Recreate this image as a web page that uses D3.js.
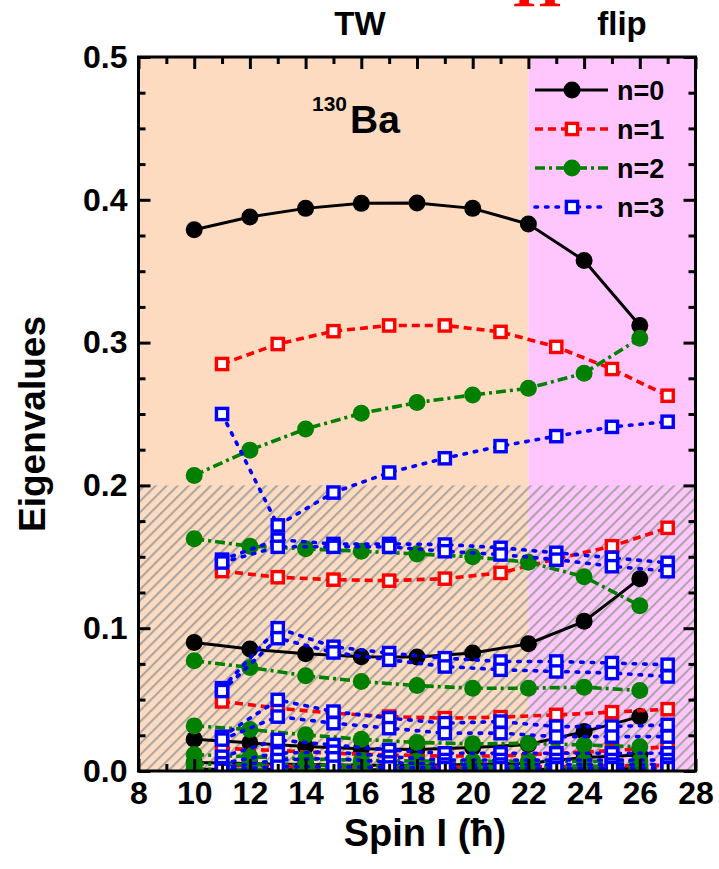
<!DOCTYPE html>
<html>
<head>
<meta charset="utf-8">
<script src="https://cdn.jsdelivr.net/npm/d3@7"></script>
<style>
  body { margin: 0; background: #fff; }
  text { font-family: "Liberation Sans", Arial, sans-serif; font-weight: bold; fill: #000; }
</style>
</head>
<body>
<svg id="chart" width="719" height="869"></svg>
<script>
// Spin values (in units of hbar)
const evenSpins = [10, 12, 14, 16, 18, 20, 22, 24, 26];
const oddSpins  = [11, 13, 15, 17, 19, 21, 23, 25, 27];

// n = 0 eigenvalues (even spins), largest first
const n0Levels = [
  [0.379, 0.388, 0.394, 0.3975, 0.3978, 0.394, 0.383, 0.3575, 0.312],
  [0.0900, 0.0854, 0.0821, 0.0800, 0.0798, 0.0826, 0.0891, 0.1048, 0.1347],
  [0.0222, 0.0197, 0.0171, 0.0155, 0.0150, 0.0165, 0.0185, 0.0276, 0.0381],
  [0.0060, 0.0052, 0.0045, 0.0040, 0.0040, 0.0045, 0.0055, 0.0095, 0.0112],
  [0.0012, 0.0010, 0.0009, 0.0008, 0.0008, 0.0009, 0.0010, 0.0015, 0.0020]
];

// n = 1 eigenvalues (odd spins)
const n1Levels = [
  [0.285, 0.299, 0.308, 0.312, 0.312, 0.3075, 0.297, 0.2815, 0.2628],
  [0.140, 0.1357, 0.134, 0.1333, 0.1347, 0.1387, 0.1486, 0.1574, 0.1703],
  [0.0487, 0.0440, 0.0405, 0.0381, 0.0370, 0.0377, 0.0393, 0.0412, 0.0433],
  [0.0159, 0.0143, 0.0124, 0.0112, 0.0105, 0.0105, 0.0124, 0.0143, 0.0170],
  [0.0040, 0.0035, 0.0030, 0.0028, 0.0028, 0.0028, 0.0030, 0.0035, 0.0040]
];

// n = 2 eigenvalues (even spins)
const n2Levels = [
  [0.207, 0.2247, 0.2395, 0.2505, 0.258, 0.2633, 0.268, 0.2786, 0.303],
  [0.1626, 0.1574, 0.1556, 0.1539, 0.1520, 0.1500, 0.1462, 0.1360, 0.1158],
  [0.0772, 0.0725, 0.0667, 0.0627, 0.0598, 0.0580, 0.0580, 0.0587, 0.0564],
  [0.0316, 0.0290, 0.0253, 0.0222, 0.0200, 0.0190, 0.0194, 0.0182, 0.0170],
  [0.0115, 0.0100, 0.0085, 0.0075, 0.0070, 0.0068, 0.0068, 0.0068, 0.0068],
  [0.0050, 0.0044, 0.0040, 0.0036, 0.0034, 0.0033, 0.0033, 0.0033, 0.0033],
  [0.0012, 0.0010, 0.0009, 0.0008, 0.0008, 0.0008, 0.0008, 0.0008, 0.0008]
];

// n = 3 eigenvalues (odd spins)
const n3Levels = [
  [0.250, 0.172, 0.195, 0.209, 0.219, 0.2275, 0.2345, 0.241, 0.2446],
  [0.148, 0.162, 0.159, 0.159, 0.1586, 0.1563, 0.1528, 0.1493, 0.1458],
  [0.146, 0.157, 0.157, 0.157, 0.1539, 0.1516, 0.1480, 0.1434, 0.1399],
  [0.058, 0.100, 0.087, 0.0826, 0.0790, 0.0767, 0.0767, 0.0756, 0.0744],
  [0.056, 0.093, 0.083, 0.0779, 0.0732, 0.0709, 0.0697, 0.0686, 0.0662],
  [0.024, 0.0498, 0.0416, 0.0370, 0.0335, 0.0346, 0.0311, 0.0311, 0.0323],
  [0.022, 0.0381, 0.0335, 0.0300, 0.0265, 0.0265, 0.0241, 0.0241, 0.0241],
  [0.0100, 0.0218, 0.0182, 0.0147, 0.0124, 0.0124, 0.0124, 0.0124, 0.0124],
  [0.0054, 0.0124, 0.0135, 0.0100, 0.0077, 0.0077, 0.0077, 0.0077, 0.0077],
  [0.0020, 0.0077, 0.0089, 0.0060, 0.0045, 0.0045, 0.0045, 0.0045, 0.0045],
  [0.0008, 0.0030, 0.0030, 0.0025, 0.0020, 0.0020, 0.0020, 0.0020, 0.0020]
];

const legendLabels = ["n=0", "n=1", "n=2", "n=3"];
const xTickValues = [8, 10, 12, 14, 16, 18, 20, 22, 24, 26, 28];
const xMinorTicks = [9, 11, 13, 15, 17, 19, 21, 23, 25, 27];
const yTickValues = [0.0, 0.1, 0.2, 0.3, 0.4, 0.5];
const yMinorTicks = [0.025, 0.05, 0.075, 0.125, 0.15, 0.175, 0.225, 0.25, 0.275,
                     0.325, 0.35, 0.375, 0.425, 0.45, 0.475];
const twRange = [8, 22];
const flipRange = [22, 28];
const hatchTop = 0.2;

const svg = d3.select("#chart");
const x = d3.scaleLinear().domain([8, 28]).range([138.5, 695.5]);
const y = d3.scaleLinear().domain([0, 0.5]).range([771, 57]);
const plotLeft = x.range()[0], plotRight = x.range()[1];
const plotTop = y.range()[1], plotBottom = y.range()[0];

const defs = svg.append("defs");
defs.append("clipPath").attr("id", "plotClip")
  .append("rect").attr("x", plotLeft).attr("y", plotTop)
  .attr("width", plotRight - plotLeft).attr("height", plotBottom - plotTop);
const hatch = defs.append("pattern").attr("id", "hatch")
  .attr("patternUnits", "userSpaceOnUse")
  .attr("width", 7.8).attr("height", 7.8)
  .attr("patternTransform", "rotate(45)");
hatch.append("line").attr("x1", 1).attr("y1", 0).attr("x2", 1).attr("y2", 7.8)
  .attr("stroke", "#a9a6a3").attr("stroke-width", 2.2);

// shaded regions
svg.append("rect").attr("x", x(twRange[0])).attr("y", plotTop)
  .attr("width", x(twRange[1]) - x(twRange[0])).attr("height", plotBottom - plotTop)
  .attr("fill", "#fddbc1");
svg.append("rect").attr("x", x(flipRange[0])).attr("y", plotTop)
  .attr("width", x(flipRange[1]) - x(flipRange[0])).attr("height", plotBottom - plotTop)
  .attr("fill", "#ffc6fe");
svg.append("rect").attr("x", plotLeft).attr("y", y(hatchTop))
  .attr("width", plotRight - plotLeft).attr("height", plotBottom - y(hatchTop))
  .attr("fill", "url(#hatch)");

// series styles
const styles = [
  { levels: n0Levels, spins: evenSpins, color: "#000000", dash: null,        marker: "circle", fill: "#000000" },
  { levels: n1Levels, spins: oddSpins,  color: "#ff0000", dash: "8,5",       marker: "square", fill: "#ffffff" },
  { levels: n2Levels, spins: evenSpins, color: "#008000", dash: "10,4,3,4",  marker: "circle", fill: "#008000" },
  { levels: n3Levels, spins: oddSpins,  color: "#0000ff", dash: "2.5,8",     marker: "square", fill: "#ffffff" }
];

const plot = svg.append("g").attr("clip-path", "url(#plotClip)");
const line = d3.line().x(d => x(d[0])).y(d => y(d[1]));

function drawMarker(g, cx, cy, s) {
  if (s.marker === "circle") {
    g.append("circle").attr("cx", cx).attr("cy", cy).attr("r", 8.5).attr("fill", s.fill);
  } else {
    g.append("rect").attr("x", cx - 5.6).attr("y", cy - 5.6)
      .attr("width", 11.2).attr("height", 11.2)
      .attr("fill", s.fill).attr("stroke", s.color).attr("stroke-width", 3.4);
  }
}

styles.forEach(s => {
  const g = plot.append("g");
  s.levels.forEach(vals => {
    const pts = s.spins.map((sp, i) => [sp, vals[i]]);
    g.append("path").attr("d", line(pts))
      .attr("fill", "none").attr("stroke", s.color)
      .attr("stroke-width", s.dash ? 3.6 : 3)
      .attr("stroke-dasharray", s.dash)
      .attr("stroke-linecap", s.dash === "2.5,8" ? "round" : "butt");
    pts.forEach(p => drawMarker(g, x(p[0]), y(p[1]), s));
  });
});

// axes with inward ticks on all four sides
function styleAxis(g) {
  g.select(".domain").remove();
  g.selectAll(".tick line").attr("stroke", "#000").attr("stroke-width", 3);
  g.selectAll(".tick text").style("font-size", "32px").style("font-weight", "bold")
    .style("font-family", "'Liberation Sans', Arial, sans-serif").attr("fill", "#000");
}
const noLabel = () => "";

svg.append("g").attr("transform", `translate(0,${plotBottom})`)
  .call(d3.axisBottom(x).tickValues(xTickValues).tickSize(-12).tickPadding(10)).call(styleAxis);
svg.append("g").attr("transform", `translate(0,${plotBottom})`)
  .call(d3.axisBottom(x).tickValues(xMinorTicks).tickSize(-7).tickFormat(noLabel)).call(styleAxis);
svg.append("g").attr("transform", `translate(0,${plotTop})`)
  .call(d3.axisTop(x).tickValues(xTickValues).tickSize(-12).tickFormat(noLabel)).call(styleAxis);
svg.append("g").attr("transform", `translate(0,${plotTop})`)
  .call(d3.axisTop(x).tickValues(xMinorTicks).tickSize(-7).tickFormat(noLabel)).call(styleAxis);

svg.append("g").attr("transform", `translate(${plotLeft},0)`)
  .call(d3.axisLeft(y).tickValues(yTickValues).tickSize(-12).tickPadding(11).tickFormat(d3.format(".1f"))).call(styleAxis);
svg.append("g").attr("transform", `translate(${plotLeft},0)`)
  .call(d3.axisLeft(y).tickValues(yMinorTicks).tickSize(-7).tickFormat(noLabel)).call(styleAxis);
svg.append("g").attr("transform", `translate(${plotRight},0)`)
  .call(d3.axisRight(y).tickValues(yTickValues).tickSize(-12).tickFormat(noLabel)).call(styleAxis);
svg.append("g").attr("transform", `translate(${plotRight},0)`)
  .call(d3.axisRight(y).tickValues(yMinorTicks).tickSize(-7).tickFormat(noLabel)).call(styleAxis);

// frame
svg.append("rect").attr("x", plotLeft).attr("y", plotTop)
  .attr("width", plotRight - plotLeft).attr("height", plotBottom - plotTop)
  .attr("fill", "none").attr("stroke", "#000").attr("stroke-width", 3);

// legend
const legend = svg.append("g");
styles.forEach((s, i) => {
  const ly = 90 + i * 39;
  legend.append("line").attr("x1", 535).attr("x2", 608).attr("y1", ly).attr("y2", ly)
    .attr("stroke", s.color).attr("stroke-width", s.dash ? 3.6 : 3)
    .attr("stroke-dasharray", s.dash)
    .attr("stroke-linecap", s.dash === "2.5,8" ? "round" : "butt");
  drawMarker(legend, 572, ly, s);
  legend.append("text").attr("x", 617).attr("y", ly).attr("dy", "0.36em")
    .style("font-size", "27px").text(legendLabels[i]);
});

// annotations
svg.append("text").attr("x", 360).attr("y", 35).attr("text-anchor", "middle")
  .style("font-size", "33px").text("TW");
svg.append("text").attr("x", 622).attr("y", 35).attr("text-anchor", "middle")
  .style("font-size", "33px").text("flip");
svg.append("text").attr("x", 537).attr("y", 6).attr("text-anchor", "middle")
  .style("font-family", "'Liberation Serif', 'Times New Roman', serif")
  .style("font-size", "62px").style("fill", "#ff0000").text("Π");

const ba = svg.append("text").attr("x", 312).attr("y", 133);
ba.append("tspan").attr("dy", -22).style("font-size", "21px").text("130");
ba.append("tspan").attr("dy", 22).attr("dx", 3).style("font-size", "39px").text("Ba");

svg.append("text").attr("transform", `translate(45,424) rotate(-90)`)
  .attr("text-anchor", "middle").style("font-size", "37px").text("Eigenvalues");
svg.append("text").attr("x", 425).attr("y", 846).attr("text-anchor", "middle")
  .style("font-size", "38px").text("Spin I (ħ)");
</script>
</body>
</html>
